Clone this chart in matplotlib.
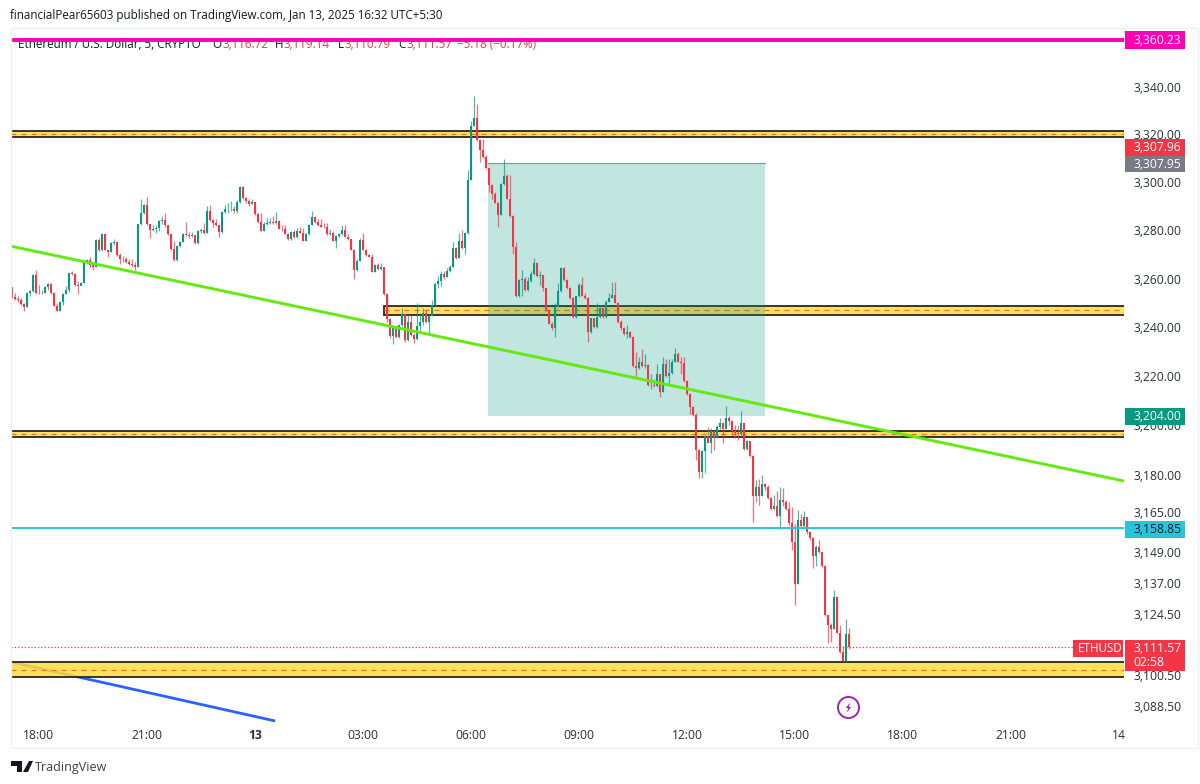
#!/usr/bin/env python3
import numpy as np
import matplotlib
matplotlib.use("Agg")
import matplotlib.pyplot as plt
from matplotlib.patches import Rectangle, Polygon
from matplotlib.ticker import FixedLocator, FixedFormatter, NullLocator
from matplotlib.transforms import IdentityTransform

plt.rcParams['font.family'] = ['Open Sans', 'DejaVu Sans']

# candles, 5 minute bars, one row = 10 bars
closes = [
    3252.5, 3251.8, 3251, 3249.4, 3248.4, 3254, 3255, 3261.5, 3254, 3254.2,
    3254, 3256.6, 3257.8, 3254, 3248.8, 3246.7, 3250.5, 3253.8, 3255.3, 3262.2,
    3262, 3257.3, 3257, 3258, 3266.5, 3267.6, 3265.5, 3264.9, 3275.9, 3271.8,
    3278.4, 3272, 3271, 3274.8, 3275, 3269.7, 3267.9, 3268, 3267, 3266,
    3265.6, 3264.9, 3282.4, 3287, 3290.6, 3282.4, 3280, 3280.4, 3281, 3283.8,
    3284.2, 3282, 3278.4, 3272.4, 3267.6, 3273.4, 3275.2, 3278.6, 3278, 3277.6,
    3278, 3274.6, 3279.7, 3280, 3279, 3287.8, 3284.3, 3283, 3282, 3279.3,
    3287.4, 3289, 3289, 3289, 3288, 3291.9, 3298.2, 3293.5, 3292, 3291,
    3291.7, 3286.7, 3283.4, 3279.8, 3282.5, 3283, 3283.6, 3283, 3284, 3280.7,
    3280.4, 3278.6, 3276.3, 3279.3, 3277, 3279.7, 3279, 3275.6, 3278.4, 3282.3,
    3285.5, 3283.5, 3282, 3281.5, 3281.2, 3278.3, 3279, 3275.6, 3277.5, 3278.4,
    3280, 3277.2, 3276.2, 3272, 3263.5, 3267.4, 3276, 3272, 3269.7, 3269,
    3262.8, 3265.6, 3264, 3264.6, 3253.6, 3243.4, 3236.5, 3239.8, 3236.2, 3240.8,
    3245.3, 3234.6, 3242, 3236.8, 3235, 3240.7, 3242, 3246, 3242, 3244.8,
    3249, 3257.8, 3259, 3262, 3260.8, 3263, 3265, 3272.8, 3268.5, 3275.7,
    3272.5, 3278.8, 3301, 3323.7, 3327, 3317.5, 3313.3, 3310.5, 3306, 3299,
    3295, 3291.5, 3286.5, 3299.2, 3302.4, 3293, 3286, 3273, 3252.7, 3259.6,
    3260, 3255.5, 3259, 3262, 3266.6, 3261.2, 3261.3, 3256, 3247, 3241.5,
    3239.5, 3248.5, 3254.7, 3264.4, 3259.6, 3256, 3252, 3244.3, 3252.7, 3257.5,
    3253, 3252, 3238, 3243.6, 3240, 3244.3, 3247.8, 3244.3, 3250.5, 3252,
    3253.3, 3250, 3242, 3239.5, 3237.3, 3238, 3236, 3224, 3223.3, 3226,
    3224, 3224.5, 3216.5, 3216.5, 3216, 3220.8, 3213.7, 3225, 3220, 3221.4,
    3226, 3229, 3226, 3225.5, 3218, 3212.6, 3207.6, 3204.3, 3190.2, 3181.4,
    3189.5, 3195.7, 3193, 3197.7, 3195, 3199.4, 3201, 3198.6, 3203.1, 3201.9,
    3197.7, 3197, 3196.5, 3201, 3190.5, 3193.6, 3187.6, 3171.5, 3175, 3171.7,
    3176.2, 3175, 3170.8, 3166.5, 3167.5, 3163.5, 3170, 3169, 3166.3, 3160.7,
    3153, 3136.6, 3162, 3159.6, 3163, 3157, 3154.6, 3147.7, 3151, 3149,
    3143.7, 3124.2, 3120.2, 3118.8, 3131.4, 3117.2, 3109.7, 3106, 3116.8, 3111.57,
]
highs = [
    3256.5, 3254, 3252.8, 3252, 3250, 3254.5, 3255.5, 3261.8, 3263.5, 3257.5,
    3255.5, 3257, 3258.2, 3258, 3254.6, 3249.8, 3250.8, 3254, 3257, 3262.5,
    3263, 3262.5, 3259, 3258.6, 3266.8, 3268, 3269, 3266.3, 3276.4, 3276.6,
    3278.8, 3278.6, 3272.4, 3275.2, 3276.4, 3275.2, 3270.6, 3269.5, 3269, 3268,
    3268, 3266.8, 3282.6, 3293, 3291, 3293.9, 3282.6, 3282.2, 3282, 3284.2,
    3286, 3287, 3282.2, 3278.5, 3275.4, 3273.8, 3275.6, 3279, 3283.6, 3279.2,
    3279.2, 3278.2, 3280, 3281, 3283, 3290, 3290.6, 3284.5, 3284.5, 3282.2,
    3287.8, 3290.5, 3291.3, 3292, 3290, 3292.4, 3298.6, 3298.4, 3294, 3293,
    3293, 3291.6, 3287.2, 3287, 3283.6, 3285, 3285, 3286, 3287.4, 3284.2,
    3282, 3282, 3279, 3279.6, 3280, 3281, 3281.5, 3281, 3279, 3282.6,
    3288, 3285.8, 3284.5, 3284.6, 3283, 3283, 3280.5, 3279.6, 3278, 3279,
    3282, 3282, 3278.4, 3276.5, 3272.4, 3268, 3276.6, 3279, 3272.3, 3270,
    3270, 3266, 3266.5, 3266.4, 3265, 3254, 3244, 3240, 3240.5, 3241,
    3248, 3245.5, 3246, 3245, 3237.5, 3250, 3245, 3248, 3247, 3245,
    3251, 3258, 3261, 3263, 3263, 3264.5, 3265.6, 3275, 3273, 3279,
    3280, 3279.2, 3305, 3325.5, 3336, 3333, 3318, 3318, 3311.2, 3306,
    3299.2, 3296, 3291.8, 3299.6, 3309.5, 3303.5, 3303, 3286.5, 3275, 3260,
    3263.7, 3260.5, 3260.5, 3263, 3268.7, 3266.8, 3263, 3261.5, 3256.2, 3247.4,
    3242, 3250, 3258, 3265, 3264.8, 3260, 3256.4, 3252.4, 3253, 3258,
    3260.5, 3254, 3252.4, 3244, 3244, 3250, 3249, 3248, 3251, 3254,
    3258.5, 3258.5, 3250.2, 3243, 3240, 3241, 3238.5, 3236.4, 3230, 3228,
    3231, 3229, 3225, 3221, 3219, 3225, 3221, 3228, 3227, 3227,
    3227, 3231.5, 3230, 3228, 3228, 3218.6, 3213, 3208, 3205, 3190.5,
    3190, 3196, 3199.5, 3199, 3198, 3200, 3203, 3201.5, 3207.9, 3204,
    3202.2, 3200, 3200, 3206, 3201.2, 3194, 3193.8, 3188, 3178, 3178.5,
    3180, 3177, 3176, 3171, 3172, 3173.4, 3175, 3174.6, 3170, 3169,
    3167, 3160.5, 3166, 3164.5, 3165.6, 3163.2, 3157.4, 3155, 3152, 3154,
    3149.3, 3144, 3124.6, 3121, 3134, 3131.6, 3120.4, 3112, 3122.7, 3119.14,
]
lows = [
    3252, 3251, 3250.5, 3249, 3246.8, 3248.5, 3253, 3254.6, 3253.8, 3253.5,
    3253.5, 3254, 3255.3, 3253.8, 3248.8, 3246.6, 3246.6, 3249.3, 3253.6, 3254.6,
    3261.4, 3257, 3253.6, 3257.5, 3258, 3266, 3265, 3263.6, 3264.8, 3271.6,
    3271.6, 3271.8, 3269, 3270.8, 3274, 3269.5, 3266, 3266.8, 3266.5, 3265.5,
    3265, 3263.6, 3264.8, 3282.2, 3286.8, 3282, 3276.8, 3279.8, 3279, 3279.8,
    3282.6, 3281.5, 3278.2, 3272, 3267.4, 3267.4, 3273.2, 3275, 3277.6, 3276.6,
    3277, 3274.4, 3274.4, 3279, 3278.5, 3278.8, 3284, 3281.5, 3281.6, 3277.3,
    3279, 3287, 3287.2, 3288, 3287, 3287, 3291.2, 3293.2, 3291.2, 3290.2,
    3291, 3286.4, 3283, 3279.6, 3279.6, 3282.2, 3282.4, 3282.5, 3282.6, 3280.4,
    3279.8, 3278.4, 3276, 3276, 3276.6, 3276.8, 3278.7, 3275.4, 3275.4, 3278,
    3282, 3283.2, 3281.8, 3281.2, 3280.8, 3278, 3278, 3275.4, 3272.5, 3277,
    3278, 3277, 3276, 3271.8, 3260, 3263.2, 3267.2, 3271.7, 3269.4, 3268.8,
    3262.6, 3262.6, 3263.6, 3263.4, 3253.4, 3242, 3235.5, 3233, 3235.8, 3235.7,
    3240.6, 3234, 3234.4, 3236.4, 3233.5, 3234.8, 3238, 3241, 3241.8, 3237.8,
    3244.7, 3248.6, 3256, 3257, 3260, 3260.6, 3262.8, 3264.8, 3268, 3268.4,
    3272.2, 3270, 3278.6, 3300.8, 3323.5, 3317.2, 3308.6, 3310, 3305.6, 3296,
    3293, 3291.2, 3281.5, 3286.3, 3299, 3292.8, 3285.5, 3270, 3252.5, 3252.4,
    3253, 3255, 3255, 3258.7, 3261.5, 3260.8, 3257.2, 3255, 3246.8, 3241.2,
    3238.8, 3236, 3248.2, 3254.5, 3259.2, 3255.8, 3251.8, 3244, 3244, 3252.5,
    3252.8, 3251.7, 3234, 3237.7, 3239.7, 3239.8, 3244, 3244, 3244, 3250.2,
    3252, 3249.8, 3241.6, 3239, 3237, 3235.5, 3235.7, 3223.7, 3219, 3223,
    3223.7, 3223.5, 3216.2, 3215, 3215.5, 3215.8, 3211.5, 3213.5, 3219.6, 3217,
    3221, 3225.7, 3225.6, 3221, 3217.6, 3212.2, 3204.5, 3204, 3186, 3179,
    3179, 3181, 3192.8, 3189, 3190, 3194.8, 3198.6, 3193, 3198.4, 3200,
    3196, 3195, 3194, 3196.2, 3190, 3190, 3187.4, 3161, 3169, 3168,
    3171.5, 3174, 3170.4, 3166, 3166, 3163, 3158.2, 3167.5, 3166, 3160,
    3150, 3128, 3136.4, 3159.2, 3159, 3156.5, 3154, 3143, 3143.6, 3148.6,
    3143.4, 3124, 3113, 3113.5, 3118.6, 3117, 3109.4, 3105.5, 3105.6, 3110.79,
]
first_open = 3256.4
bars_before_first_tick = 9

# hours counted from the 18:00 tick on the left
xtick_hours = [0, 3, 6, 9, 12, 15, 18, 21, 24, 27, 30]
xtick_labels = ["18:00", "21:00", "13", "03:00", "06:00", "09:00", "12:00",
                "15:00", "18:00", "21:00", "14"]
ytick_prices = [3340, 3320, 3300, 3280, 3260, 3240, 3220, 3200, 3180, 3165,
                3149, 3137, 3124.5, 3100.5, 3088.5]
ytick_labels = ["3,340.00", "3,320.00", "3,300.00", "3,280.00", "3,260.00",
                "3,240.00", "3,220.00", "3,200.00", "3,180.00", "3,165.00",
                "3,149.00", "3,137.00", "3,124.50", "3,100.50", "3,088.50"]

# drawings
zone_lows = [3318.8, 3245, 3195.2, 3099.7]
zone_highs = [3321.3, 3248.8, 3197.6, 3105.7]
zone_starts = [-0.78, 9.58, -0.78, -0.78]
box_hours = [12.47, 20.17]
box_prices = [3204.0, 3307.95]
green_hours = [-0.78, 30.14]
green_prices = [3273.4, 3177.6]
blue_hours = [-0.78, 6.56]
blue_prices = [3105.7, 3082.6]
magenta_price = 3360.0
cyan_price = 3158.85
last_price = 3111.57
bolt_hour = 22.47
bolt_price = 3088.0

RED = "#F23645"
GREEN = "#089981"
TEXT = "#131722"
W, H = 1200, 784


def fx(x):
    return x / W


def fy(y):
    return 1 - y / H


fig = plt.figure(figsize=(W / 100, H / 100), dpi=100, facecolor="white")
ax = fig.add_axes([fx(11), fy(722), fx(1124 - 11), (722 - 28) / H])
ax.set_yscale("log")
ax.set_xlim(-0.778, 30.14)
ax.set_ylim(3082.2, 3365.0)
for side in ax.spines:
    ax.spines[side].set_visible(False)

# outline of the chart pane
fig.add_artist(Rectangle((fx(11), fy(748)), fx(1187), 720 / H, fill=False,
                         edgecolor="#EEF0F5", linewidth=1,
                         transform=fig.transFigure))

# axes ticks
ax.yaxis.tick_right()
ax.yaxis.set_major_locator(FixedLocator(ytick_prices))
ax.yaxis.set_major_formatter(FixedFormatter(ytick_labels))
ax.yaxis.set_minor_locator(NullLocator())
ax.set_xticks(xtick_hours)
ax.set_xticklabels(xtick_labels)
ax.tick_params(axis="y", length=0, pad=6.5, labelsize=8.7, labelcolor="#2A2E39")
ax.tick_params(axis="x", length=0, pad=5, labelsize=8.7, labelcolor="#2A2E39")
for lab in ax.get_xticklabels():
    if lab.get_text() == "13":
        lab.set_fontweight("bold")

# blue trend line sits under the bottom zone
ax.plot(blue_hours, blue_prices, color="#2962FF", linewidth=2, zorder=1.5,
        solid_capstyle="butt")

# yellow zones with dashed middle
for low, high, start in zip(zone_lows, zone_highs, zone_starts):
    ax.add_patch(Rectangle((start, low), 31 - start, high - low,
                           facecolor="#FFDD3C", alpha=0.85, edgecolor="none",
                           zorder=2))
    ax.add_patch(Rectangle((start, low), 31 - start, high - low, fill=False,
                           edgecolor="#26261E", linewidth=1.3, zorder=2.1))
    ax.plot([start, 31], [np.sqrt(low * high)] * 2, color="#E8703A",
            linewidth=0.9, dashes=(4, 4), zorder=2.2)

# position tool
ax.add_patch(Rectangle((box_hours[0], box_prices[0]), box_hours[1] - box_hours[0],
                       box_prices[1] - box_prices[0], facecolor=GREEN, alpha=0.25,
                       edgecolor="none", zorder=2.3))
ax.plot(box_hours, [box_prices[1]] * 2, color="#7C9A94", linewidth=0.8, zorder=2.4)

# candles
opens = [first_open] + closes[:-1]
hours = (np.arange(len(closes)) - bars_before_first_tick) / 12
colors = [GREEN if c >= o else RED for o, c in zip(opens, closes)]
ax.vlines(hours, lows, highs, colors=colors, linewidth=0.9, alpha=0.7, zorder=3)
ax.bar(hours, np.array(closes) - np.array(opens), bottom=opens, width=2.6 / 36,
       color=colors, linewidth=0, zorder=3.1)

# horizontal lines
ax.axhline(last_price, color=RED, linewidth=0.9, linestyle=":", zorder=2.5)
ax.axhline(cyan_price, color="#26C6DA", linewidth=1.4, zorder=3.5)
ax.plot(green_hours, green_prices, color="#64EA10", linewidth=2.1, zorder=3.6)
ax.axhline(magenta_price, color="#FF00B4", linewidth=2.8, zorder=5)

# alert icon, ring with a small bolt
bolt_shape = [(0.35, 1), (-0.55, -0.1), (-0.05, -0.1), (-0.35, -1),
              (0.55, 0.1), (0.05, 0.1)]
ax.scatter([bolt_hour], [bolt_price], s=230, facecolors="white",
           edgecolors="#9C27B0", linewidths=1.4, zorder=4)
ax.scatter([bolt_hour], [bolt_price], s=55, marker=bolt_shape, color="#9C27B0",
           linewidths=0, zorder=4.1)


def px_box(x0, x1, y0, y1, color):
    ax.add_patch(Rectangle((x0, H - y1), x1 - x0, y1 - y0, facecolor=color,
                           edgecolor="none", transform=IdentityTransform(),
                           clip_on=False, zorder=9))


def px_text(x, y, s, color, **kw):
    ax.text(fx(x), fy(y), s, color=color, transform=fig.transFigure,
            va="center", fontsize=kw.pop("fontsize", 8.7), clip_on=False,
            zorder=kw.pop("zorder", 10), **kw)


# price labels on the scale
for y0, y1, color, tcolor, label in [
        (31, 49, "#FF00B4", "white", "3,360.23"),
        (139, 156, RED, "white", "3,307.96"),
        (156, 172, "#787B86", "white", "3,307.95"),
        (408, 425, GREEN, "white", "3,204.00"),
        (521, 538, "#26C6DA", TEXT, "3,158.85")]:
    px_box(1125, 1185, y0, y1, color)
    px_text(1133, (y0 + y1) / 2, label, tcolor)

px_box(1073, 1123, 640, 657, RED)
px_text(1078, 648.5, "ETHUSD", "white", fontsize=8.4)
px_box(1125, 1185, 640, 671, RED)
px_text(1133, 649, "3,111.57", "white")
px_text(1133, 662, "02:58", "white")

# header
px_text(10, 15, "financialPear65603 published on TradingView.com, Jan 13, 2025 16:32 UTC+5:30",
        TEXT, fontsize=8.4)
header = [(18, "Ethereum / U.S. Dollar, 5, CRYPTO", TEXT), (212, "O", TEXT),
          (222, "3,116.72", RED), (275, "H", TEXT), (283, "3,119.14", RED),
          (338, "L", TEXT), (344, "3,110.79", RED), (398, "C", TEXT),
          (406, "3,111.57", RED), (457, "\u22125.18 (\u22120.17%)", RED)]
for x, s, color in header:
    px_text(x, 44, s, color, fontsize=8.4, zorder=4)

# logo at the bottom
for pts in [[(11, 761), (22, 761), (22, 772), (17, 772), (17, 766), (11, 766)],
            [(23, 772), (29, 761), (33, 761), (28, 772)]]:
    ax.add_patch(Polygon([(x, H - y) for x, y in pts], facecolor=TEXT, edgecolor="none",
                         transform=IdentityTransform(), clip_on=False, zorder=9))
px_text(35, 767, "TradingView", "#3B3E48", fontsize=9.0)

fig.savefig("out.png", dpi=100)
